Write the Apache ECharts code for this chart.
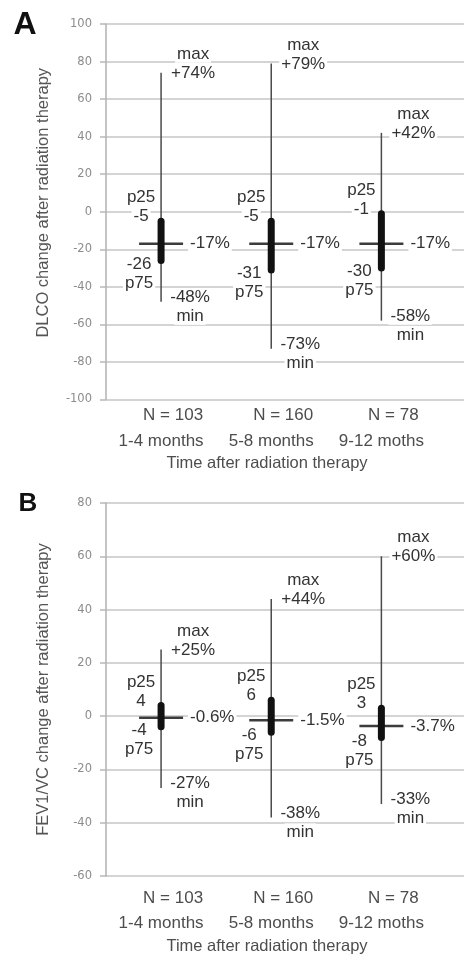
<!DOCTYPE html>
<html><head><meta charset="utf-8">
<script src="https://cdn.jsdelivr.net/npm/echarts@6/dist/echarts.min.js"></script>
<style>html,body{margin:0;padding:0;background:#fff}#c{width:464px;height:958px}</style>
</head><body><div id="c"></div>
<script>
// ---- data ----
const periods = ['1-4 months', '5-8 months', '9-12 moths'];
const nLabels = ['N = 103', 'N = 160', 'N = 78'];
const positions = [1, 2, 3];

const dlcoMin = [-48, -73, -58];
const dlcoP75 = [-26, -31, -30];
const dlcoMedian = [-17, -17, -17];
const dlcoP25 = [-5, -5, -1];
const dlcoMax = [74, 79, 42];

const fevMin = [-27, -38, -33];
const fevP75 = [-4, -6, -8];
const fevMedian = [-0.6, -1.5, -3.7];
const fevP25 = [4, 6, 3];
const fevMax = [25, 44, 60];

const dlcoTicks = [-100, -80, -60, -40, -20, 0, 20, 40, 60, 80, 100];
const fevTicks = [-60, -40, -20, 0, 20, 40, 60, 80];

// ---- rendering ----
const FONT = '"Liberation Sans", Arial, sans-serif';
const TXT = '#333';

function rows(mins, p75s, meds, p25s, maxs) {
  return positions.map((p, i) => [p, mins[i], p75s[i], meds[i], p25s[i], maxs[i]]);
}

function twoLine(x, y, a, b) {
  return {
    type: 'text', z2: 20,
    style: {
      text: '{t|' + a + '}\n{t|' + b + '}', x: x, y: y, align: 'center', verticalAlign: 'middle',
      rich: { t: { fontSize: 17, lineHeight: 19, fontFamily: FONT, fill: TXT, backgroundColor: '#fff', padding: [0, 2] } }
    }
  };
}

function renderBox(params, api) {
  const x = api.value(0);
  const vMin = api.value(1), p75 = api.value(2), med = api.value(3), p25 = api.value(4), vMax = api.value(5);
  const pMax = api.coord([x, vMax]);
  const bx = pMax[0], yMax = pMax[1];
  const yMin = api.coord([x, vMin])[1];
  const y75 = api.coord([x, p75])[1];
  const y25 = api.coord([x, p25])[1];
  const yMed = api.coord([x, med])[1];
  return {
    type: 'group',
    children: [
      { type: 'line', shape: { x1: bx, y1: yMax, x2: bx, y2: yMin }, style: { stroke: '#4a4a4a', lineWidth: 1.5 } },
      { type: 'line', shape: { x1: bx - 22, y1: yMed, x2: bx + 22, y2: yMed }, style: { stroke: '#3c3c3c', lineWidth: 2.5 } },
      { type: 'line', shape: { x1: bx, y1: y25, x2: bx, y2: y75 }, style: { stroke: '#111', lineWidth: 7, lineCap: 'round' } },
      twoLine(bx + 32, yMax - 9, 'max', '+' + vMax + '%'),
      twoLine(bx - 20, y25 - 14, 'p25', String(p25)),
      twoLine(bx - 22, y75 + 13, String(p75), 'p75'),
      twoLine(bx + 29, yMin + 5, vMin + '%', 'min'),
      {
        type: 'text', z2: 20,
        style: { text: med + '%', x: bx + 27, y: yMed, align: 'left', verticalAlign: 'middle',
          fontSize: 17, fontFamily: FONT, fill: TXT, backgroundColor: '#fff', padding: [0, 2] }
      }
    ]
  };
}

function xAxisCfg(gi, margin, lh, nameGap) {
  return {
    type: 'value', gridIndex: gi, min: 0.5, max: 3.75, interval: 0.5,
    axisLine: { show: false }, axisTick: { show: false }, splitLine: { show: false },
    axisLabel: {
      margin: margin, showMinLabel: true, showMaxLabel: false,
      formatter: function (v) {
        const r = Math.round(v);
        if (Math.abs(v - r) > 1e-6 || r < 1 || r > 3) return '';
        return '{n|' + nLabels[r - 1] + '}\n{m|' + periods[r - 1] + '}';
      },
      rich: {
        n: { fontSize: 17, lineHeight: lh, fontFamily: FONT, color: '#4d4d4d', padding: [0, 0, 0, 24] },
        m: { fontSize: 17, lineHeight: lh, fontFamily: FONT, color: '#4d4d4d' }
      }
    },
    name: 'Time after radiation therapy', nameLocation: 'middle', nameGap: nameGap,
    nameTextStyle: { fontSize: 16.5, fontFamily: FONT, color: '#4d4d4d', padding: [0, 36, 0, 0] }
  };
}

function yAxisCfg(gi, ticks, name, pad) {
  return {
    type: 'value', gridIndex: gi, min: ticks[0], max: ticks[ticks.length - 1], interval: ticks[1] - ticks[0],
    axisLine: { show: true, onZero: false, lineStyle: { color: '#b0b0b0', width: 1.5 } },
    axisTick: { show: true, length: 6, lineStyle: { color: '#b8b8b8', width: 1.5 } },
    splitLine: { show: true, lineStyle: { color: '#c6c6c6', width: 1.5 } },
    axisLabel: { margin: 14, fontSize: 11.5, fontFamily: '"DejaVu Sans", sans-serif', color: '#8c8c8c' },
    name: name, nameLocation: 'middle', nameGap: 54, nameRotate: 90,
    nameTextStyle: { fontSize: 16.5, fontFamily: FONT, color: '#555', padding: pad }
  };
}

const chart = echarts.init(document.getElementById('c'), null, { renderer: 'canvas' });
chart.setOption({
  animation: false,
  backgroundColor: '#fff',
  grid: [
    { left: 106, right: 0, top: 24, height: 375.5 },
    { left: 106, right: 0, top: 503, height: 373 }
  ],
  xAxis: [xAxisCfg(0, 2.5, 26, 55), xAxisCfg(1, 9.5, 25, 62)],
  yAxis: [
    yAxisCfg(0, dlcoTicks, 'DLCO change after radiation therapy', [0, 0, 0, 18]),
    yAxisCfg(1, fevTicks, 'FEV1/VC change after radiation therapy', [0, 0, 0, 0])
  ],
  graphic: [
    { type: 'text', style: { text: 'A', x: 25, y: 25, align: 'center', verticalAlign: 'middle', font: 'bold 32px ' + FONT, fill: '#111' } },
    { type: 'text', style: { text: 'B', x: 28, y: 504, align: 'center', verticalAlign: 'middle', font: 'bold 26px ' + FONT, fill: '#111' } }
  ],
  series: [
    { type: 'custom', xAxisIndex: 0, yAxisIndex: 0, renderItem: renderBox, clip: false,
      data: rows(dlcoMin, dlcoP75, dlcoMedian, dlcoP25, dlcoMax) },
    { type: 'custom', xAxisIndex: 1, yAxisIndex: 1, renderItem: renderBox, clip: false,
      data: rows(fevMin, fevP75, fevMedian, fevP25, fevMax) }
  ]
});
</script></body></html>
